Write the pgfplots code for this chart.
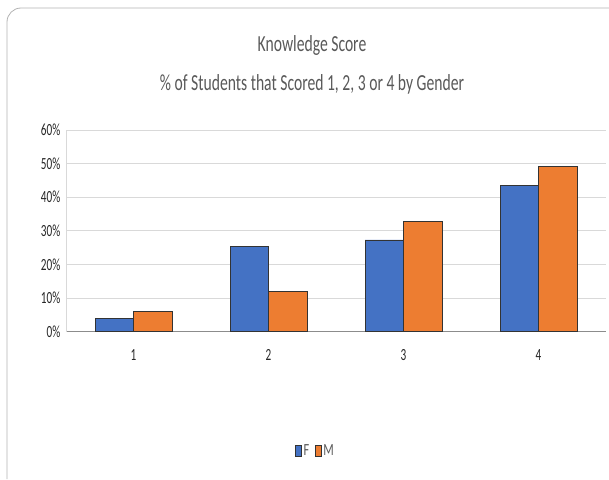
\documentclass[border=0pt]{standalone}
\usepackage{pgfplots}
\pgfplotsset{compat=1.18}
\usepackage{fontspec}
\setmainfont{Carlito}
\definecolor{fblue}{HTML}{4472C4}
\definecolor{morange}{HTML}{ED7D31}
\definecolor{tgray}{HTML}{595959}
\definecolor{ggray}{HTML}{D9D9D9}
\begin{document}
\begin{tikzpicture}
\useasboundingbox (0pt,0pt) rectangle (609pt,-479pt);
\draw[color=black!30, line width=0.8pt] (7pt,-479pt) -- (7pt,-22pt) arc[start angle=180,end angle=90,radius=14pt] -- (609pt,-8pt);
\node[font=\fontsize{23}{27}\selectfont, text=tgray, xscale=0.68] at (312pt,-45pt) {Knowledge Score};
\node[font=\fontsize{23}{27}\selectfont, text=tgray, xscale=0.68] at (312pt,-84pt) {\% of Students that Scored 1, 2, 3 or 4 by Gender};
\begin{axis}[
  at={(66pt,-331.7pt)}, anchor=south west,
  scale only axis, width=540pt, height=201.7pt,
  ybar=0pt, bar width=38.5pt,
  xmin=0.5, xmax=4.5, ymin=0, ymax=60,
  xtick={1,2,3,4}, xticklabels={1,2,3,4},
  ytick={0,10,20,30,40,50,60},
  yticklabel={\pgfmathprintnumber{\tick}\%},
  /pgf/number format/assume math mode=true,
  tick style={draw=none},
  ymajorgrids, grid style={ggray, line width=0.9pt},
  axis x line*=bottom, axis y line*=left,
  x axis line style={draw=black!45, line width=0.9pt, -},
  y axis line style={draw=ggray, line width=0.9pt, -},
  ticklabel style={font=\fontsize{17}{19}\selectfont, text=black!85, xscale=0.66},
  xticklabel style={yshift=-10pt},
  yticklabel style={xshift=-5pt},
  legend style={at={(0.462,-0.591)}, anchor=center, draw=none, font=\fontsize{17}{19}\selectfont, text=tgray, inner sep=1pt, nodes={inner xsep=2.5pt, xscale=0.72}, /tikz/every odd column/.append style={column sep=0pt}, /tikz/every even column/.append style={column sep=4pt}},
  legend columns=2,
  legend image code/.code={\draw[#1, draw=black!80, line width=0.6pt] (0pt,-5.5pt) rectangle (6pt,5.5pt);},
]
\addplot[fill=fblue, draw=black!80, line width=0.6pt] coordinates {(1,3.9) (2,25.3) (3,27.3) (4,43.6)};
\addplot[fill=morange, draw=black!80, line width=0.6pt] coordinates {(1,6.1) (2,12.1) (3,32.7) (4,49.1)};
\legend{F,M}
\end{axis}
\end{tikzpicture}
\end{document}
